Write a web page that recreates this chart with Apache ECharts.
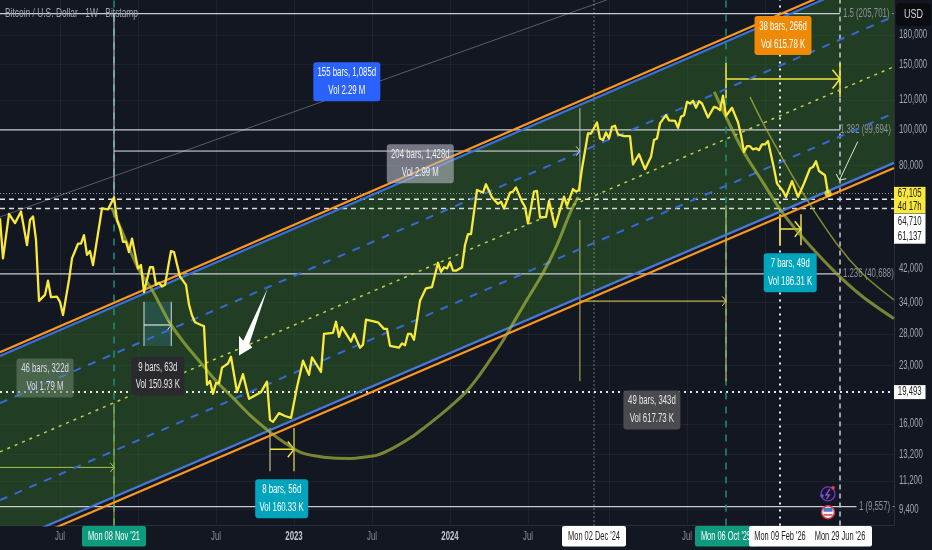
<!DOCTYPE html>
<html><head><meta charset="utf-8">
<style>html,body{margin:0;padding:0;background:#131722}#c{width:932px;height:550px}</style>
<script src="https://cdn.jsdelivr.net/npm/echarts@6/dist/echarts.min.js"></script>
</head><body><div id="c"></div>
<script>
// ---------- data (weeks counted from Mon 08 Nov '21, prices in USD) ----------
const priceWeeks=[-38,-37,-35,-33,-31,-29,-28,-27,-26,-25,-23,-22,-21,-19,-18,-17,-15,-14,-12,-11,-10,-9,-8,-7,-4,-2,0,1,2,3,4,5,6,8,9,10,12,13,14,15,16,17,19,20,22,24,25,26,27,29,30,31,32,33,34,35,36,38,39,41,43,45,47,49,51,52,53,55,57,59,61,63,65,66,69,70,73,74,75,76,79,80,82,83,84,88,90,91,92,95,96,97,98,99,100,102,104,106,108,109,110,111,112,113,114,116,117,118,119,121,123,124,126,128,129,130,132,133,134,136,137,138,140,141,142,144,145,147,149,150,151,153,154,155,156,158,159,161,162,163,164,165,166,167,168,170,172,173,175,177,179,180,181,182,184,185,187,188,189,190,191,192,193,194,195,196,198,200,201,202,203,204,206,207,208,209,210,211,212,213,214,215,216,217,218,220,221,223,224,226,228,230,232,233,234,235,237,238];
const priceValues=[57500,44800,59100,55800,60000,48700,56900,58200,50300,34400,35700,39000,35200,35300,34200,31500,39200,44800,49100,49100,51800,45800,46900,43000,61200,60800,65500,56900,54000,49700,49700,46600,50700,42100,43000,36300,42400,42400,38000,38500,37600,38000,46900,46600,40000,38000,33600,31400,30100,29600,29400,20400,20900,19300,20600,20600,22700,23300,24300,19500,21800,18700,19100,19500,20800,16400,16200,17100,16800,16600,20100,23700,21700,24200,22100,28000,28200,30200,27500,29200,26700,28000,25700,26200,30600,30100,28900,28900,26000,25700,26400,26100,28000,28000,27000,34400,37200,37500,43600,41200,42400,42100,43800,41500,41500,42400,48700,52100,52100,68600,67500,71100,65500,62900,63800,61100,67500,67900,69700,63800,61800,55700,67900,68200,57800,58000,64100,54500,61800,65800,62200,69000,67900,68600,78400,97500,97500,104400,94500,93600,98100,94500,101600,102300,96900,95900,95900,80400,85700,78100,84300,93600,94500,103800,109300,105800,105500,101000,108200,109300,118700,117500,119500,114400,119200,117500,107700,115100,114400,112700,123300,108800,114400,109300,104600,96500,87000,90100,90100,88300,88900,87900,91100,91100,93000,78400,71400,68100,65700,72500,65700,71400,78400,79200,82000,77200,75200,67105];
const yTicks=[180000,150000,120000,100000,80000,42000,34000,28000,23000,16000,13200,11200,9400];
const xTickWeeks=[-18,34,60,86,112,138,191];
const xTickLabels=['Jul','Jul','2023','Jul','2024','Jul','Jul'];
const xGridWeeks=[-18,8,34,60,86,112,138,165,191,217];
const fibLevels=[205701,99694,40688,9557];
const fibLabels=['1.5 (205,701) -','1.382 (99,694)','1.236 (40,688)','1 (9,557) -'];
const fibLabelWeeks=[243,242,243,248.3];
const fibEndWeeks=[242,242,242,247.5];
const upperOrange=[[-38,25000],[260,278400]];
const upperBlue=[[-38,24400],[260,271600]];
const lowerOrange=[[-38,7230],[260,78600]];
const lowerBlue=[[-38,7490],[260,81200]];
const dashedUpper=[[-38,18200],[260,202200]];
const dottedMiddle=[[-38,13440],[260,147800]];
const dashedLower=[[-38,9950],[260,110700]];
const grayLine=[[-38,58000],[260,424800]];
const bigArc=[[-0.7,61300],[3.67,50800],[8,42200],[12.7,36800],[18.7,29900],[23.67,26300],[28.7,23500],[34,20900],[39.7,18800],[45.33,16900],[52,15200],[57,14200],[62,13420],[67.33,13090],[73,12930],[78.7,12900],[83.67,13010],[87.7,13170],[93,13760],[98.7,14640],[103.67,15680],[108.7,16890],[113,18090],[117.3,19490],[121.33,21400],[125.3,23790],[129.33,26600],[133,29900],[138,35000],[143,40900],[147.67,48700],[152,59400],[154.7,65600]];
const rightArc=[[200.1,126400],[205,104000],[210.1,86300],[216.5,71500],[222.9,59400],[231.5,49000],[240.7,40900],[249.6,35300],[260,30800]];
const thinArc=[[212,122500],[217,101600],[228.3,70000],[240.7,49300],[249.7,40600],[260,34600]];
const bigArrowShape=[[51.2,37200],[45.1,26300],[46.1,25750],[41.67,24500],[41.67,27670],[43.1,26830]];
const yMin=8498,yMax=223800;
const boxes=[
 {w:77.6,p:134600,t:'155 bars, 1,085d\nVol 2.29 M',bg:'#2962ff',c:'#fff',bw:67},
 {w:102.1,p:80800,t:'204 bars, 1,428d\nVol 2.99 M',bg:'rgba(178,181,190,0.62)',c:'#eee',bw:67},
 {w:223,p:179300,t:'38 bars, 266d\nVol 615.78 K',bg:'#ef8a08',c:'#fff',bw:57},
 {w:225.4,p:41000,t:'7 bars, 49d\nVol 186.31 K',bg:'#00a4bd',c:'#fff',bw:53},
 {w:-23,p:21300,t:'46 bars, 322d\nVol 1.79 M',bg:'rgba(110,135,110,0.55)',c:'#dde',bw:57},
 {w:14.6,p:21500,t:'9 bars, 63d\nVol 150.93 K',bg:'#2a2a2e',c:'#e6e6e6',bw:53},
 {w:55.9,p:10030,t:'8 bars, 56d\nVol 160.33 K',bg:'#00a4bd',c:'#fff',bw:53},
 {w:179.3,p:17450,t:'49 bars, 343d\nVol 617.73 K',bg:'#4a4b4f',c:'#e6e6e6',bw:57}
];
// ---------- helpers ----------
const DAY=86400000,WEEK=7*DAY,T0=Date.UTC(2021,10,8);
const tw=w=>T0+w*WEEK;
const FONT="'Liberation Sans',sans-serif";
const SX=0.65;
const xy=a=>a.map(d=>[tw(d[0]),d[1]]);
const series=[];
function line(pts,color,width,dash,z,smooth){series.push({type:'line',data:xy(pts),showSymbol:false,symbol:'none',silent:true,smooth:smooth?0.3:false,z:z||3,animation:false,lineStyle:{color,width,type:dash||'solid',cap:'butt'}});}
function poly(pts,color,z){series.push({type:'custom',silent:true,z:z||1,clip:true,animation:false,coordinateSystem:'cartesian2d',data:xy(pts),encode:{x:0,y:1},
  renderItem:(p,api)=>{ if(p.dataIndex!==0)return; return {type:'polygon',shape:{points:pts.map(d=>api.coord([tw(d[0]),d[1]]))},style:{fill:color}};}});}
function chevron(tip,from,color,size,lw,z){series.push({type:'custom',silent:true,z:z||5,clip:false,animation:false,coordinateSystem:'cartesian2d',data:xy([tip]),encode:{x:0,y:1},
  renderItem:(p,api)=>{const a=api.coord([tw(tip[0]),tip[1]]),b=api.coord([tw(from[0]),from[1]]);const ang=Math.atan2(b[1]-a[1],b[0]-a[0]);const s=.9;
    return {type:'polyline',shape:{points:[[a[0]+size*Math.cos(ang+s),a[1]+size*Math.sin(ang+s)],a,[a[0]+size*Math.cos(ang-s),a[1]+size*Math.sin(ang-s)]]},style:{stroke:color,lineWidth:lw,fill:'none'}};}});}
// text narrowed horizontally like the reference's condensed face
function textAt(w,p,text,o){series.push({type:'custom',silent:true,clip:false,z:o.z||8,animation:false,coordinateSystem:'cartesian2d',data:[[tw(w),p]],encode:{x:0,y:1},
  renderItem:(pr,api)=>{const c=api.coord([tw(w),p]);const off=o.off||[0,0];const x=c[0]+off[0],y=c[1]+off[1];const kids=[];
    if(o.bg) kids.push({type:'rect',shape:{x:x-o.bw/2,y:y-o.bh/2,width:o.bw,height:o.bh,r:o.r||0},style:{fill:o.bg}});
    kids.push({type:'text',x:x,y:y,scaleX:o.sx||SX,style:{text:text,fill:o.c||'#fff',fontFamily:FONT,fontSize:o.fs||12,fontWeight:o.fw||'normal',lineHeight:o.lh||17,align:o.align||'center',verticalAlign:'middle'}});
    return {type:'group',children:kids};}});}
// ---------- drawing ----------
poly([upperBlue[0],upperBlue[1],lowerBlue[1],lowerBlue[0]],'rgba(50,110,40,0.46)',1);
poly([[10,34200],[19.1,34200],[19.1,25960],[10,25960]],'rgba(70,150,190,0.22)',1);
line(grayLine,'#5a5d66',1,'solid',2);
// horizontal levels
fibLevels.forEach((v,i)=>line([[-38,v],[fibEndWeeks[i],v]],'#c9ccd3',1.2,'solid',3));
fibLevels.forEach((v,i)=>textAt(fibLabelWeeks[i],v,fibLabels[i],{c:'#8f929b',align:'left',z:4}));
line([[-38,19493],[260,19493]],'#e8e8e8',2,[2,4],3);
line([[-38,67105],[260,67105]],'#9a9c92',1,[1,2],3);
line([[-38,64710],[260,64710]],'#e4e6ea',1.5,[5,4],3);
line([[-38,61137],[260,61137]],'#d6d9dc',1.5,[5,4],3);
// verticals
line([[0,yMin],[0,yMax]],'#1f8f78',1.5,[7,7],3);
line([[204,yMin],[204,yMax]],'#1f8f78',1.5,[7,7],3);
line([[160,yMin],[160,yMax]],'#c9ccd3',1,[1,3],3);
line([[222,yMin],[222,yMax]],'#f0f0f0',2,[2,5],3);
line([[242,yMin],[242,yMax]],'#c9ccd3',1.5,[5,4],3);
// date ranges
line([[0,206000],[0,65600]],'#d8dade',1,'solid',4);
line([[0,18200],[0,yMin]],'#a9c24a',1,'solid',4);
line([[-38,12200],[0,12200]],'#a9c24a',1,'solid',4);
chevron([0,12200],[-10,12200],'#a9c24a',6,1,5);
line([[0,87400],[155.3,87400]],'#e4e6ea',1,'solid',4);
chevron([155.3,87400],[100,87400],'#c5d0cc',6,1,5);
line([[155.3,114200],[155.3,67700]],'#b9c4bc',1,'solid',4);
line([[155.3,56900],[155.3,20870]],'#b9b95a',1,'solid',4);
line([[155.3,34350],[204,34350]],'#e3d94c',1,'solid',4);
chevron([204,34350],[170,34350],'#e3d94c',6,1,5);
line([[204,62400],[204,20870]],'#b6c66a',1.2,'solid',4);
line([[204,151100],[204,121500]],'#f4e83f',1.5,'solid',4);
line([[204,136800],[242,136800]],'#f4e83f',1.5,'solid',4);
chevron([242,136800],[210,136800],'#f4e83f',12,1.5,5);
line([[242,151100],[242,122300]],'#f4e83f',1.5,'solid',4);
line([[222,59000],[222,48660]],'#d8cc50',2,'solid',4);
line([[229,59000],[229,48660]],'#e8dc40',1.5,'solid',4);
line([[222,53800],[229,53800]],'#f4e83f',1.5,'solid',4);
chevron([229,53800],[222,53800],'#f4e83f',10,1.5,5);
line([[52,15600],[52,11920]],'#9c9c7c',1.5,'solid',4);
line([[60,15600],[60,11920]],'#e8dc40',1.2,'solid',4);
line([[52,13650],[60,13650]],'#f4e83f',1.5,'solid',4);
chevron([60,13650],[52,13650],'#f4e83f',10,1.5,5);
line([[10,34200],[10,25960]],'#b8c4c4',1.2,'solid',4);
line([[19.1,34200],[19.1,25960]],'#b8c4c4',1.2,'solid',4);
line([[10,29600],[19.1,29600]],'#d8e0e0',1.2,'solid',4);
chevron([19.1,29600],[10,29600],'#d8e0e0',6,1,5);
// channel
line(dashedUpper,'#3668d8',2,[8,8],4);
line(dashedLower,'#3668d8',2,[8,8],4);
line(dottedMiddle,'#c4d04a',1.5,[3,5],4);
line(upperBlue,'#3a6fdc',2.2,'solid',5);
line(upperOrange,'#f9981c',2.2,'solid',5);
line(lowerBlue,'#4a76d8',2.2,'solid',5);
line(lowerOrange,'#f9981c',2.2,'solid',5);
// arcs
line(bigArc,'rgba(170,185,60,0.68)',3,'solid',5,true);
line(rightArc,'rgba(170,185,60,0.68)',3,'solid',5,true);
line(thinArc,'rgba(170,175,60,0.75)',1.5,'solid',5,true);
// price
series.push({type:'line',data:priceWeeks.map((w,i)=>[tw(w),priceValues[i]]),showSymbol:false,symbol:'none',silent:true,z:6,animation:false,lineStyle:{color:'#f9e93b',width:2.3,join:'round'}});
series.push({type:'scatter',silent:true,z:7,symbolSize:7,animation:false,itemStyle:{color:'#ffe23b'},data:[[tw(238),67105]]});
// white arrows
poly(bigArrowShape,'#ffffff',7);
line([[247.9,92600],[241.8,72900]],'#dfe3e0',1,'solid',7);
chevron([241.8,72900],[247.9,92600],'#dfe3e0',7,1,7);
// boxes
boxes.forEach(b=>textAt(b.w,b.p,b.t,{bg:b.bg,c:b.c,bw:b.bw,bh:39,r:3,lh:17.5}));
// tick labels
yTicks.forEach(v=>textAt(260,v,v.toLocaleString('en-US'),{c:'#a3a6af',align:'left',off:[5,0],z:4}));
xTickWeeks.forEach((w,i)=>textAt(w,yMin,xTickLabels[i],{c:/^\d/.test(xTickLabels[i])?'#c3c6cf':'#8b8e97',fw:/^\d/.test(xTickLabels[i])?'bold':'normal',off:[0,11.5],z:4}));
// title
textAt(-38,yMax,'Bitcoin / U.S. Dollar · 1W · Bitstamp',{c:'#a3a6af',align:'left',off:[5,14],sx:0.7,z:4});
// price-axis boxes
textAt(260,64400,'67,105\n4d 17h',{bg:'#f8e93c',c:'#222',bw:31.5,bh:26.5,lh:13.5,off:[15.75,0],z:9});
textAt(260,53900,'64,710\n61,137',{bg:'#ffffff',c:'#222',bw:31.5,bh:30,lh:15,off:[15.75,0],z:9});
textAt(260,19493,'19,493',{bg:'#ffffff',c:'#222',bw:31.5,bh:14,off:[15.75,0],z:9});
// USD
textAt(260,yMax,'USD',{bg:'#0b0c10',c:'#d1d4dc',bw:35,bh:23,r:4,off:[19.5,14.5],sx:.75,z:9});
// bottom date tags
const dateTags=[[0,"Mon 08 Nov '21",'#0d9a7f','#fff',64],[204,"Mon 06 Oct '25",'#0d9a7f','#fff',62],[160,"Mon 02 Dec '24",'#fff','#222',64],[222,"Mon 09 Feb '26",'#fff','#222',62],[242,"Mon 29 Jun '26",'#fff','#222',64]];
dateTags.forEach((d,i)=>textAt(d[0],yMin,d[1],{bg:d[2],c:d[3],bw:d[4],bh:20.5,r:2,sx:.62,off:[0,10.8],z:10+i}));
// event icons
series.push({type:'custom',silent:true,z:9,clip:false,animation:false,coordinateSystem:'cartesian2d',data:[[tw(238),10350],[tw(238),9230]],encode:{x:0,y:1},
 renderItem:(p,api)=>{const c=api.coord([api.value(0),api.value(1)]);const x=c[0],y=c[1];
  if(p.dataIndex===0) return {type:'group',children:[
    {type:'circle',shape:{cx:x,cy:y,r:7},style:{fill:'#181528',stroke:'#6d38c8',lineWidth:1.3}},
    {type:'polyline',shape:{points:[[x+2,y-5],[x-2,y+1],[x+1.5,y+1],[x-1.5,y+5]]},style:{stroke:'#8c5be0',lineWidth:1.3,fill:'none'}},
    {type:'circle',shape:{cx:x+5,cy:y-6,r:1.8},style:{fill:'#f04040'}},
    {type:'circle',shape:{cx:x-6,cy:y+2,r:1.8},style:{fill:'#5a50f0'}}]};
  return {type:'group',children:[
    {type:'circle',shape:{cx:x,cy:y,r:6.5},style:{fill:'#f4f4f4',stroke:'#d8323c',lineWidth:1.5}},
    {type:'rect',shape:{x:x-4.5,y:y-4.5,width:9,height:4},style:{fill:'#4a78c8'}},
    {type:'rect',shape:{x:x-4.5,y:y+2,width:9,height:1.4},style:{fill:'#d8323c'}}]};}});
// ---------- chart ----------
const chart=echarts.init(document.getElementById('c'),null,{renderer:'canvas'});
chart.setOption({
 animation:false,backgroundColor:'#131722',
 grid:{left:0,top:0,width:894,height:525.5,containLabel:false,outerBoundsMode:'none'},
 xAxis:{type:'value',min:tw(-38),max:tw(260),
  axisLine:{show:true,onZero:false,lineStyle:{color:'#2a2e39'}},axisTick:{show:false,customValues:xGridWeeks.map(tw)},
  splitLine:{show:true,lineStyle:{color:'rgba(255,255,255,0.05)'}},
  axisLabel:{show:false,customValues:xGridWeeks.map(tw)}},
 yAxis:{type:'log',position:'right',min:yMin,max:yMax,logBase:10,
  axisLine:{show:true,lineStyle:{color:'#2a2e39'}},axisTick:{show:false,customValues:yTicks},
  splitLine:{show:true,lineStyle:{color:'rgba(255,255,255,0.05)'}},minorTick:{show:false},minorSplitLine:{show:false},
  axisLabel:{show:false,customValues:yTicks}},
 series
});
</script></body></html>
